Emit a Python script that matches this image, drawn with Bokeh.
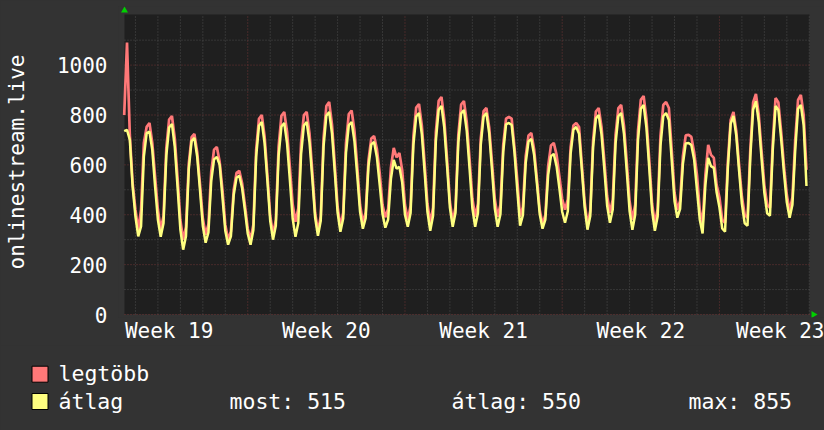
import numpy as np
from bokeh.plotting import figure
from bokeh.models import FixedTicker, Range1d
from bokeh.layouts import column
from bokeh.embed import file_html
from bokeh.resources import INLINE
from bokeh.core.properties import value

# Time axis: days since Monday 00:00 of Week 19; samples every 3 hours from Tuesday 12:00
t_start = 1.5
t_step = 0.125

# "legtöbb" (maximum) series
legtobb = [
    800, 1090, 720, 527,
    420, 340, 420, 688, 753, 768, 688, 553,
    420, 340, 395, 668, 782, 796, 707, 548,
    379, 300, 351, 605, 711, 724, 651, 522,
    385, 320, 362, 573, 661, 672, 612, 500,
    360, 300, 333, 499, 568, 576, 526, 438,
    344, 300, 360, 660, 785, 800, 714, 560,
    397, 320, 379, 674, 797, 812, 733, 592,
    442, 372, 425, 689, 799, 812, 726, 572,
    409, 332, 394, 706, 836, 852, 762, 602,
    432, 352, 408, 688, 804, 818, 737, 593,
    440, 368, 410, 619, 706, 716, 663, 568,
    440, 390, 423, 590, 668, 630, 648, 580,
    440, 380, 436, 714, 830, 844, 758, 606,
    444, 368, 428, 731, 857, 872, 782, 622,
    452, 372, 430, 720, 842, 856, 772, 624,
    466, 392, 444, 706, 815, 828, 750, 610,
    462, 392, 440, 680, 785, 792, 785, 670,
    540, 392, 432, 634, 718, 728, 662, 544,
    419, 360, 399, 596, 678, 688, 640, 554,
    463, 420, 462, 671, 758, 768, 752, 600,
    450, 360, 416, 697, 814, 828, 752, 618,
    475, 408, 460, 719, 827, 840, 757, 610,
    454, 380, 440, 737, 861, 876, 784, 620,
    446, 364, 423, 715, 840, 852, 828, 660,
    489, 420, 456, 636, 718, 720, 712, 650,
    560, 420, 360, 560, 680, 640, 628, 520,
    470, 380, 368, 612, 780, 812, 736, 600,
    473, 400, 388, 661, 850, 884, 802, 656,
    519, 440, 428, 692, 868, 850, 731, 594,
    480, 412, 470, 700, 860, 880, 800, 580,
]

# "átlag" (average) series
atlag = [
    735, 740, 700, 513,
    393, 313, 353, 633, 727, 733, 660, 513,
    380, 312, 366, 637, 750, 764, 673, 512,
    341, 260, 314, 583, 695, 708, 632, 498,
    355, 288, 329, 536, 622, 632, 600, 470,
    336, 280, 313, 479, 548, 556, 506, 418,
    324, 280, 339, 634, 757, 772, 687, 536,
    376, 300, 356, 637, 754, 768, 686, 540,
    385, 312, 367, 643, 758, 772, 690, 544,
    389, 316, 376, 673, 797, 812, 726, 572,
    409, 332, 385, 649, 759, 772, 695, 558,
    412, 344, 386, 595, 682, 692, 630, 520,
    403, 348, 381, 544, 620, 585, 592, 530,
    400, 352, 407, 680, 794, 808, 723, 572,
    412, 336, 396, 696, 821, 836, 749, 594,
    429, 352, 408, 689, 806, 820, 736, 586,
    427, 352, 407, 680, 794, 808, 726, 580,
    425, 352, 402, 652, 762, 768, 760, 650,
    500, 356, 398, 607, 694, 704, 639, 524,
    402, 344, 380, 560, 635, 644, 594, 506,
    412, 368, 414, 644, 741, 752, 725, 580,
    430, 340, 395, 671, 786, 800, 722, 584,
    437, 368, 421, 685, 795, 808, 724, 574,
    415, 340, 400, 700, 825, 840, 749, 588,
    417, 336, 393, 676, 795, 808, 780, 620,
    455, 388, 424, 604, 686, 688, 680, 620,
    500, 380, 325, 520, 628, 595, 588, 490,
    430, 345, 332, 587, 765, 796, 717, 576,
    444, 366, 356, 631, 822, 855, 773, 626,
    488, 406, 396, 660, 836, 820, 702, 567,
    450, 388, 440, 660, 825, 840, 760, 515,
]

week_centers = [3.5, 10.5, 17.5, 24.5, 31.5]
week_labels = ["Week 19", "Week 20", "Week 21", "Week 22", "Week 23"]
week_starts = [7, 14, 21, 28]
day_lines = [d for d in range(2, 33) if d not in week_starts]
y_ticks = [0, 200, 400, 600, 800, 1000]
y_minor = [100, 300, 500, 700, 900, 1100]
y_label = "onlinestream.live"
series_names = ["legtöbb", "átlag"]
stats = [("most", 515), ("átlag", 550), ("max", 855)]

t = t_start + t_step * np.arange(len(legtobb))

FONT = "DejaVu Sans Mono"
BG = "#333333"
PLOT_BG = "#1f1f1f"
RED = "#ff7878"
YELLOW = "#ffff80"
GRID_MINOR = "#4e4e4e"
GRID_MAJOR = "#6e3535"
GREEN = "#00d000"

# data extent of the dark graph area (685 x 301 px)
X0, X1 = 1.513, 32.01
Y0, Y1 = 0, 1203
dx = (X1 - X0) / 685
dy = (Y1 - Y0) / 301

# the Bokeh frame is a little larger than the graph area so the arrows fit
p = figure(width=824, height=345, output_backend="svg", toolbar_location=None,
           x_range=Range1d(X0 - 6 * dx, X1 + 15 * dx),
           y_range=Range1d(Y0 - 3 * dy, Y1 + 8 * dy),
           min_border_left=118, min_border_right=0, min_border_top=6,
           min_border_bottom=27)
p.frame_align = False
p.background_fill_color = BG
p.border_fill_color = BG
p.outline_line_color = None
p.xgrid.visible = False
p.ygrid.visible = False

p.quad(left=[X0], right=[X1], bottom=[Y0], top=[Y1], fill_color=PLOT_BG, line_color=None)

def vlines(xs, color):
    p.segment(x0=xs, y0=[Y0] * len(xs), x1=xs, y1=[Y1] * len(xs),
              line_color=color, line_dash="1 2", line_width=1)

def hlines(ys, color):
    p.segment(x0=[X0] * len(ys), y0=ys, x1=[X1] * len(ys), y1=ys,
              line_color=color, line_dash="1 2", line_width=1)

vlines(day_lines, GRID_MINOR)
hlines(y_minor, GRID_MINOR)
vlines(week_starts, GRID_MAJOR)
hlines(y_ticks, GRID_MAJOR)

p.line(t, legtobb, line_color=RED, line_width=2.7)
p.line(t, atlag, line_color=YELLOW, line_width=2.5)

# rrdtool-style green arrow heads at the ends of the axes
p.scatter([X0], [Y1 + 4 * dy], marker="triangle", size=7, fill_color=GREEN,
          line_color=None)
p.scatter([X1 + 4 * dx], [Y0], marker="triangle", size=7, angle=-np.pi / 2,
          fill_color=GREEN, line_color=None)

p.xaxis.ticker = FixedTicker(ticks=week_centers)
p.xaxis.major_label_overrides = {c: l for c, l in zip(week_centers, week_labels)}
p.yaxis.ticker = FixedTicker(ticks=y_ticks)
for ax in (p.xaxis, p.yaxis):
    ax.axis_line_color = None
    ax.major_tick_line_color = None
    ax.minor_tick_line_color = None
    ax.major_tick_out = 0
    ax.major_tick_in = 0
    ax.minor_tick_out = 0
    ax.minor_tick_in = 0
    ax.major_label_text_font = FONT
    ax.major_label_text_font_size = "21px"
    ax.major_label_text_color = "#ffffff"
p.xaxis.major_label_standoff = 1
p.yaxis.major_label_standoff = 11
p.yaxis.axis_label = y_label
p.yaxis.axis_label_text_font = FONT
p.yaxis.axis_label_text_font_size = "21px"
p.yaxis.axis_label_text_font_style = "normal"
p.yaxis.axis_label_text_color = "#ffffff"
p.yaxis.axis_label_standoff = 25

# legend panel
leg = figure(width=824, height=85, output_backend="svg", toolbar_location=None,
             x_range=Range1d(0, 824), y_range=Range1d(85, 0),
             x_axis_type=None, y_axis_type=None, min_border=0)
leg.frame_align = False
leg.background_fill_color = BG
leg.border_fill_color = BG
leg.outline_line_color = None
leg.grid.visible = False
leg.scatter([39.5, 39.5], [28.7, 56.0], marker="square", size=16,
            fill_color=[RED, YELLOW], line_color="#000000", line_width=1)
leg.text([58, 58], [28.0, 56.3], text=series_names, text_font=value(FONT),
         text_font_size="21.5px", text_color="#ffffff", text_baseline="middle")
leg.text([229, 451, 688], [56.3, 56.3, 56.3],
         text=[f"{k}: {v}" for k, v in stats], text_font=value(FONT),
         text_font_size="21.5px", text_color="#ffffff", text_baseline="middle")

layout = column(p, leg, spacing=0, styles={"background-color": BG})
open("out.html", "w").write(file_html(layout, INLINE))
